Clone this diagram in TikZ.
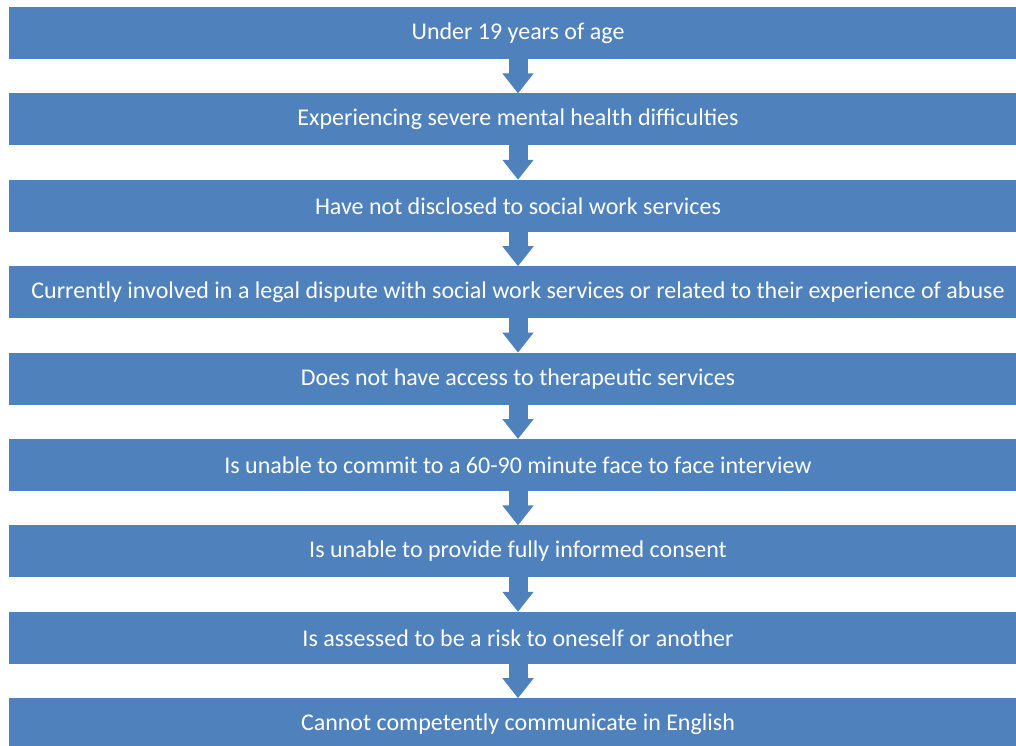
\documentclass[tikz,border=0pt]{standalone}
\usepackage{fontspec}
\setmainfont{Carlito}
\usetikzlibrary{arrows.meta, positioning}

\definecolor{stepblue}{HTML}{4F81BD}

\begin{document}
\begin{tikzpicture}[
  x=1pt, y=1pt,
  node distance=34.4pt,
  every node/.style={font=\fontsize{24}{29}\selectfont},
  crit/.style={rectangle, fill=stepblue, text=white, align=center, inner sep=0pt, outer sep=0pt, minimum width=1018pt, minimum height=52pt},
  flow/.style={draw=stepblue, line width=19pt, -{Triangle[width=30pt, length=20pt, fill=stepblue]}},
  >=Latex
]
\clip (0,0) rectangle (1016,-745);
\fill[white] (0,0) rectangle (1016,-745);

\node[crit] at (518,-33) (age) {Under 19 years of age};
\node[crit, below=of age] (mental) {Experiencing severe mental health difficulties};
\node[crit, below=of mental] (disclose) {Have not disclosed to social work services};
\node[crit, below=of disclose] (legal) {Currently involved in a legal dispute with social work services or related to their experience of abuse};
\node[crit, below=of legal] (therapy) {Does not have access to therapeutic services};
\node[crit, below=of therapy] (commit) {Is unable to commit to a 60-90 minute face to face interview};
\node[crit, below=of commit] (consent) {Is unable to provide fully informed consent};
\node[crit, below=of consent] (risk) {Is assessed to be a risk to oneself or another};
\node[crit, below=of risk] (english) {Cannot competently communicate in English};

\draw[flow] (age) -- (mental);
\draw[flow] (mental) -- (disclose);
\draw[flow] (disclose) -- (legal);
\draw[flow] (legal) -- (therapy);
\draw[flow] (therapy) -- (commit);
\draw[flow] (commit) -- (consent);
\draw[flow] (consent) -- (risk);
\draw[flow] (risk) -- (english);
\end{tikzpicture}
\end{document}
